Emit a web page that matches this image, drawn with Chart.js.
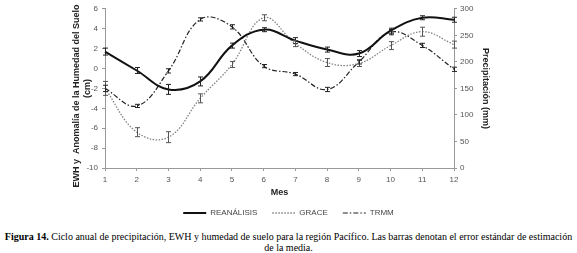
<!DOCTYPE html>
<html>
<head>
<meta charset="utf-8">
<script src="https://cdn.jsdelivr.net/npm/chart.js@4.4.1/dist/chart.umd.min.js"></script>
<style>
  html, body { margin: 0; padding: 0; background: #fff; }
  #wrap { position: relative; width: 577px; height: 253px; overflow: hidden; }
  #box { position: absolute; left: 0; top: 0; width: 577px; height: 227px; }
  #cap { position: absolute; left: 0; top: 231px; width: 577px; text-align: center;
         font-family: "Liberation Serif", "Times New Roman", serif; font-size: 10px; line-height: 11px;
         color: #000; white-space: nowrap; }
</style>
</head>
<body>
<div id="wrap">
  <div id="box"><canvas id="c"></canvas></div>
  <div id="cap"><b>Figura 14.</b> Ciclo anual de precipitación, EWH y humedad de suelo para la región Pacífico. Las barras denotan el error estándar de estimación<br>de la media.</div>
</div>
<script>
const months = ['1','2','3','4','5','6','7','8','9','10','11','12'];
const leftTicks = [-10,-8,-6,-4,-2,0,2,4,6];
const rightTicks = [0,50,100,150,200,250,300];

const reanalisis    = [1.7, -0.2, -2.1, -1.3, 2.3, 3.9, 2.8, 1.9, 1.5, 3.8, 5.1, 4.9];
const reanalisisErr = [0.35, 0.3, 0.5, 0.45, 0.25, 0.2, 0.3, 0.25, 0.3, 0.25, 0.2, 0.25];
const grace         = [-2.0, -6.4, -6.9, -3.0, 0.4, 5.1, 2.5, 0.6, 0.5, 2.3, 3.7, 2.4];
const graceErr      = [0.7, 0.45, 0.55, 0.45, 0.3, 0.3, 0.3, 0.4, 0.3, 0.4, 0.45, 0.35];
const trmm          = [150, 117, 183, 280, 266, 192, 177, 148, 200, 256, 231, 186];
const trmmErr       = [6, 3, 4, 3, 4, 3, 3, 4, 4, 5, 4, 4];

const errorBars = {
  id: 'errorBars',
  afterDatasetsDraw(chart) {
    const ctx = chart.ctx;
    chart.data.datasets.forEach((ds, di) => {
      if (!ds.errors) return;
      const meta = chart.getDatasetMeta(di);
      const scale = chart.scales[ds.yAxisID];
      ctx.save();
      ctx.strokeStyle = ds.errColor;
      ctx.lineWidth = 1;
      ctx.setLineDash([]);
      meta.data.forEach((pt, i) => {
        const v = ds.data[i], e = ds.errors[i];
        const x = Math.round(pt.x) + 0.5;
        const y1 = scale.getPixelForValue(v + e);
        const y2 = scale.getPixelForValue(v - e);
        ctx.beginPath();
        ctx.moveTo(x, y1); ctx.lineTo(x, y2);
        ctx.moveTo(x - 2.5, y1); ctx.lineTo(x + 2.5, y1);
        ctx.moveTo(x - 2.5, y2); ctx.lineTo(x + 2.5, y2);
        ctx.stroke();
      });
      ctx.restore();
    });
  }
};

const tickFont = { family: 'Liberation Sans, Arial, sans-serif', size: 8 };
const titleFont = { family: 'Liberation Sans, Arial, sans-serif', size: 9, weight: 'bold' };
const axisGrey = '#999';

new Chart(document.getElementById('c'), {
  type: 'line',
  data: {
    labels: months,
    datasets: [
      { label: 'REANÁLISIS', data: reanalisis, errors: reanalisisErr, errColor: '#222',
        yAxisID: 'y', borderColor: '#111', borderWidth: 2, tension: 0.4,
        pointRadius: 0, fill: false },
      { label: 'GRACE', data: grace, errors: graceErr, errColor: '#555',
        yAxisID: 'y', borderColor: '#808080', borderWidth: 1.3, borderDash: [1.5, 1.5], tension: 0.4,
        pointRadius: 0, fill: false },
      { label: 'TRMM', data: trmm, errors: trmmErr, errColor: '#222',
        yAxisID: 'y1', borderColor: '#222', borderWidth: 1.2, borderDash: [5, 2, 1.5, 2], tension: 0.4,
        pointRadius: 0, fill: false }
    ]
  },
  options: {
    responsive: true,
    maintainAspectRatio: false,
    animation: false,
    layout: { padding: { top: 5, left: 0, right: 0, bottom: 0 } },
    plugins: {
      tooltip: { enabled: false },
      legend: {
        position: 'bottom',
        labels: {
          usePointStyle: true, pointStyle: 'line', pointStyleWidth: 23,
          boxHeight: 8, padding: 15, color: '#444',
          font: { family: 'Liberation Sans, Arial, sans-serif', size: 8 },
          generateLabels(chart) {
            return chart.data.datasets.map((ds, i) => ({
              text: ds.label,
              fillStyle: 'rgba(0,0,0,0)',
              strokeStyle: ds.borderColor,
              lineWidth: ds.borderWidth,
              lineDash: ds.borderDash || [],
              pointStyle: 'line',
              fontColor: '#444',
              hidden: false,
              datasetIndex: i
            }));
          }
        }
      }
    },
    scales: {
      x: {
        type: 'category',
        offset: false,
        grid: { drawOnChartArea: false, drawTicks: true, tickLength: 3, color: axisGrey },
        border: { color: axisGrey },
        ticks: { color: '#555', font: tickFont, padding: 4, maxRotation: 0, autoSkip: false },
        title: { display: true, text: 'Mes', color: '#222', font: { family: 'Liberation Sans, Arial, sans-serif', size: 9, weight: 'bold' }, padding: { top: 0, bottom: -4 } },
        afterFit(s) { s.height = 26; }
      },
      y: {
        position: 'left', min: -10, max: 6,
        afterBuildTicks(s) { s.ticks = leftTicks.map(v => ({ value: v })); },
        grid: { drawOnChartArea: false, drawTicks: true, tickLength: 3, color: axisGrey },
        border: { color: axisGrey },
        ticks: { color: '#555', font: tickFont, padding: 4 },
        title: { display: true, text: ['EWH y  Anomalía de la Humedad del Suelo      ', '(cm)'], color: '#222', font: titleFont, padding: { top: 71.5, bottom: 0 } },
        afterFit(s) { s.width = 105; }
      },
      y1: {
        position: 'right', min: 0, max: 300,
        afterBuildTicks(s) { s.ticks = rightTicks.map(v => ({ value: v })); },
        grid: { drawOnChartArea: false, drawTicks: true, tickLength: 3, color: axisGrey },
        border: { color: axisGrey },
        ticks: { color: '#555', font: tickFont, padding: 3 },
        title: { display: true, text: 'Precipitación (mm)', color: '#222', font: titleFont, padding: { top: 86.5, bottom: 0 } },
        afterFit(s) { s.width = 123; }
      }
    }
  },
  plugins: [errorBars]
});
</script>
</body>
</html>
